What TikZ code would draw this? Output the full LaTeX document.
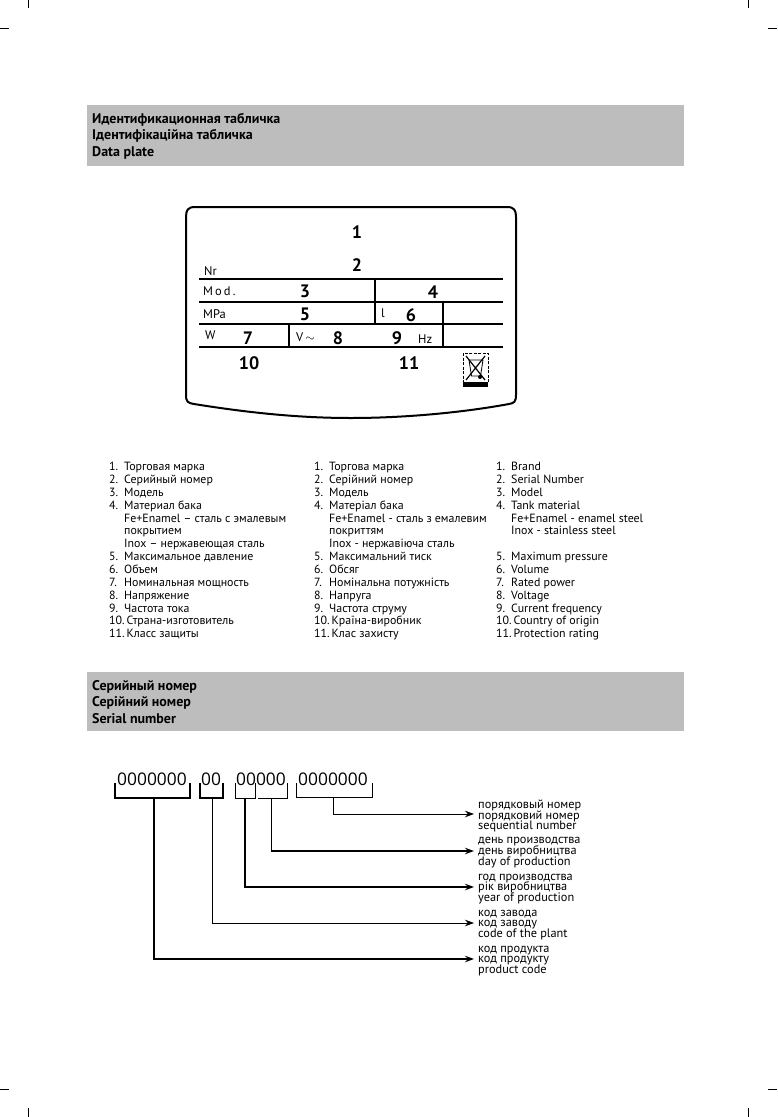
\documentclass[tikz,border=0pt]{standalone}
\usepackage{fontspec}
\setmainfont{PT Sans}
\newfontfamily\digitfont{Open Sans}
\usepackage{xcolor}
\usetikzlibrary{arrows.meta, positioning}

\definecolor{barfill}{HTML}{BDBDBD}
\newcommand{\litem}[2]{\makebox[15pt][l]{#1}#2}
\newcommand{\tightlines}{\lineskiplimit=-6pt\relax}

\tikzset{
  titlebar/.style={fill=barfill, draw=none},
  barhead/.style={anchor=north west, inner sep=0pt, align=left, font=\fontsize{14}{16.6}\selectfont\bfseries},
  listcol/.style={anchor=north west, inner sep=0pt, align=left, font=\fontsize{11.9}{12.85}\selectfont\tightlines},
  platenum/.style={inner sep=0pt, font=\fontsize{18}{18}\selectfont\bfseries},
  platelab/.style={anchor=base west, inner sep=0pt, font=\fontsize{12.5}{12}\selectfont},
  plateline/.style={line width=1.5pt},
  brk/.style={line width=1.6pt},
  brkthin/.style={line width=1pt},
  lead/.style={line width=1.3pt, -{Stealth[length=9pt,width=6.5pt]}},
  leadthin/.style={line width=.8pt, -{Stealth[length=9pt,width=6.5pt]}},
  serial/.style={anchor=center, inner sep=0pt, font=\fontsize{17.4}{20}\digitfont},
  seqlab/.style={anchor=west, inner xsep=4pt, inner ysep=0pt, align=left, font=\fontsize{12.3}{10.9}\selectfont\tightlines},
}

\begin{document}
\begin{tikzpicture}[x=1pt, y=-1pt]
  \useasboundingbox (0,0) rectangle (777,1117);

  % crop marks
  \foreach \xa/\xb in {0/9, 768/777} {
    \draw[line width=.7pt] (\xa,28) -- (\xb,28);
    \draw[line width=.7pt] (\xa,1089) -- (\xb,1089);
  }
  \foreach \xa in {28, 748} {
    \draw[line width=.7pt] (\xa,0) -- (\xa,8);
    \draw[line width=.7pt] (\xa,1108) -- (\xa,1117);
  }

  % title bars
  \fill[titlebar] (87,105) rectangle (684,166);
  \node[barhead] (headplate) at (92,113) {Идентификационная табличка\\Ідентифікаційна табличка\\Data plate};
  \fill[titlebar] (87,672) rectangle (684,731);
  \node[barhead] (headserial) at (92,680) {Серийный номер\\Серійний номер\\Serial number};

  % data plate
  \draw[line width=2pt] (186,395) .. controls (186,402) and (188,403) .. (194,404)
    .. controls (250,413) and (300,418) .. (351,418)
    .. controls (402,418) and (460,413) .. (509,404)
    .. controls (514,403) and (516,402) .. (516,395)
    -- (516,217) .. controls (516,210) and (514,207) .. (507,207)
    -- (195,207) .. controls (188,207) and (186,210) .. (186,217) -- cycle;
  \foreach \yy in {279, 302, 324, 347}
    \draw[plateline] (199,\yy) -- (503,\yy);
  \draw[plateline] (375,279) -- (375,324);
  \draw[plateline] (443,302) -- (443,347);
  \draw[plateline] (289,324) -- (289,347);

  \node[platenum] (n1) at (357,232) {1};
  \node[platenum] (n2) at (357,265) {2};
  \node[platenum] (n3) at (305,291) {3};
  \node[platenum] (n4) at (433,292) {4};
  \node[platenum] (n5) at (305,314) {5};
  \node[platenum] (n6) at (411,315) {6};
  \node[platenum] (n7) at (248,338) {7};
  \node[platenum] (n8) at (338,338) {8};
  \node[platenum] (n9) at (397,338) {9};
  \node[platenum] (n10) at (249,363) {10};
  \node[platenum] (n11) at (409,363) {11};

  \node[platelab] (labnr) at (204,275) {Nr};
  \node[platelab] (labmod) at (203,295) {M\,o\,d\,.};
  \node[platelab] (labmpa) at (203,318) {MPa};
  \node[platelab] (labl) at (381,317) {l};
  \node[platelab] (labw) at (205,339) {W};
  \node[platelab] (labv) at (296,341) {V\,$\sim$};
  \node[platelab] (labhz) at (418,343) {Hz};

  % recycling mark
  \draw[line width=.6pt, dashed, dash pattern=on 3pt off 1.5pt] (463,353) rectangle (488,382);
  \fill (463,382) rectangle (488,387);
  \draw[line width=1.2pt] (466,356) -- (485,380) (485,356) -- (466,380);
  \draw[line width=.8pt] (469,360) -- (483,360) -- (480.5,376) -- (471.5,376) -- cycle;
  \fill (480,377) circle (2pt);

  % text lists
  \node[listcol] (listru) at (109,462) {%
    \litem{1.}{Торговая марка}\\
    \litem{2.}{Серийный номер}\\
    \litem{3.}{Модель}\\
    \litem{4.}{Материал бака}\\
    \litem{}{Fe+Enamel – сталь с эмалевым}\\
    \litem{}{покрытием}\\
    \litem{}{Inox – нержавеющая сталь}\\
    \litem{5.}{Максимальное давление}\\
    \litem{6.}{Объем}\\
    \litem{7.}{Номинальная мощность}\\
    \litem{8.}{Напряжение}\\
    \litem{9.}{Частота тока}\\
    10.\,Страна-изготовитель\\
    11.\,Класс защиты};
  \node[listcol] (listua) at (314,462) {%
    \litem{1.}{Торгова марка}\\
    \litem{2.}{Серійний номер}\\
    \litem{3.}{Модель}\\
    \litem{4.}{Матеріал бака}\\
    \litem{}{Fe+Enamel - сталь з емалевим}\\
    \litem{}{покриттям}\\
    \litem{}{Inox - нержавіюча сталь}\\
    \litem{5.}{Максимальний тиск}\\
    \litem{6.}{Обсяг}\\
    \litem{7.}{Номінальна потужність}\\
    \litem{8.}{Напруга}\\
    \litem{9.}{Частота струму}\\
    10.\,Країна-виробник\\
    11.\,Клас захисту};
  \node[listcol] (listen) at (496,462) {%
    \litem{1.}{Brand}\\
    \litem{2.}{Serial Number}\\
    \litem{3.}{Model}\\
    \litem{4.}{Tank material}\\
    \litem{}{Fe+Enamel - enamel steel}\\
    \litem{}{Inox - stainless steel}\\
    ~\\
    \litem{5.}{Maximum pressure}\\
    \litem{6.}{Volume}\\
    \litem{7.}{Rated power}\\
    \litem{8.}{Voltage}\\
    \litem{9.}{Current frequency}\\
    10.\,Country of origin\\
    11.\,Protection rating};

  % serial number
  \node[serial] (grp1) at (152,779) {0000000};
  \node[serial] (grp2) at (211,779) {00};
  \node[serial] (grp3) at (261,779) {00000};
  \node[serial] (grp4) at (333,779) {0000000};

  \draw[brk] (115,783) -- (115,798) -- coordinate[pos=.52] (brkprod) (190,798) -- (190,783);
  \draw[brk] (200,783) -- (200,798) -- coordinate[pos=.54] (brkplant) (223,798) -- (223,783);
  \draw[brkthin] (235,783) -- (235,798) -- coordinate[pos=.5] (brkyear) (255,798) -- (255,783);
  \draw[brkthin] (258,798) -- coordinate[pos=.47] (brkday) (287,798) -- (287,783);
  \draw[brkthin] (296,783) -- (296,797) -- coordinate[pos=.49] (brkseq) (372,797) -- (372,783);

  \node[seqlab] (labseq) at (474,816) {порядковый номер\\порядковий номер\\sequential number};
  \node[seqlab] (labday) at (474,853) {день производства\\день виробництва\\day of production};
  \node[seqlab] (labyear) at (474,889) {год производства\\рік виробництва\\year of production};
  \node[seqlab] (labplant) at (474,925) {код завода\\код заводу\\code of the plant};
  \node[seqlab] (labprod) at (474,961) {код продукта\\код продукту\\product code};

  \draw[leadthin] (brkseq) |- ([yshift=2pt]labseq.west);
  \draw[lead] (brkday) |- ([yshift=2pt]labday.west);
  \draw[lead] (brkyear) |- ([yshift=2pt]labyear.west);
  \draw[leadthin] (brkplant) |- ([yshift=2pt]labplant.west);
  \draw[lead] (brkprod) |- ([yshift=2pt]labprod.west);
\end{tikzpicture}
\end{document}
